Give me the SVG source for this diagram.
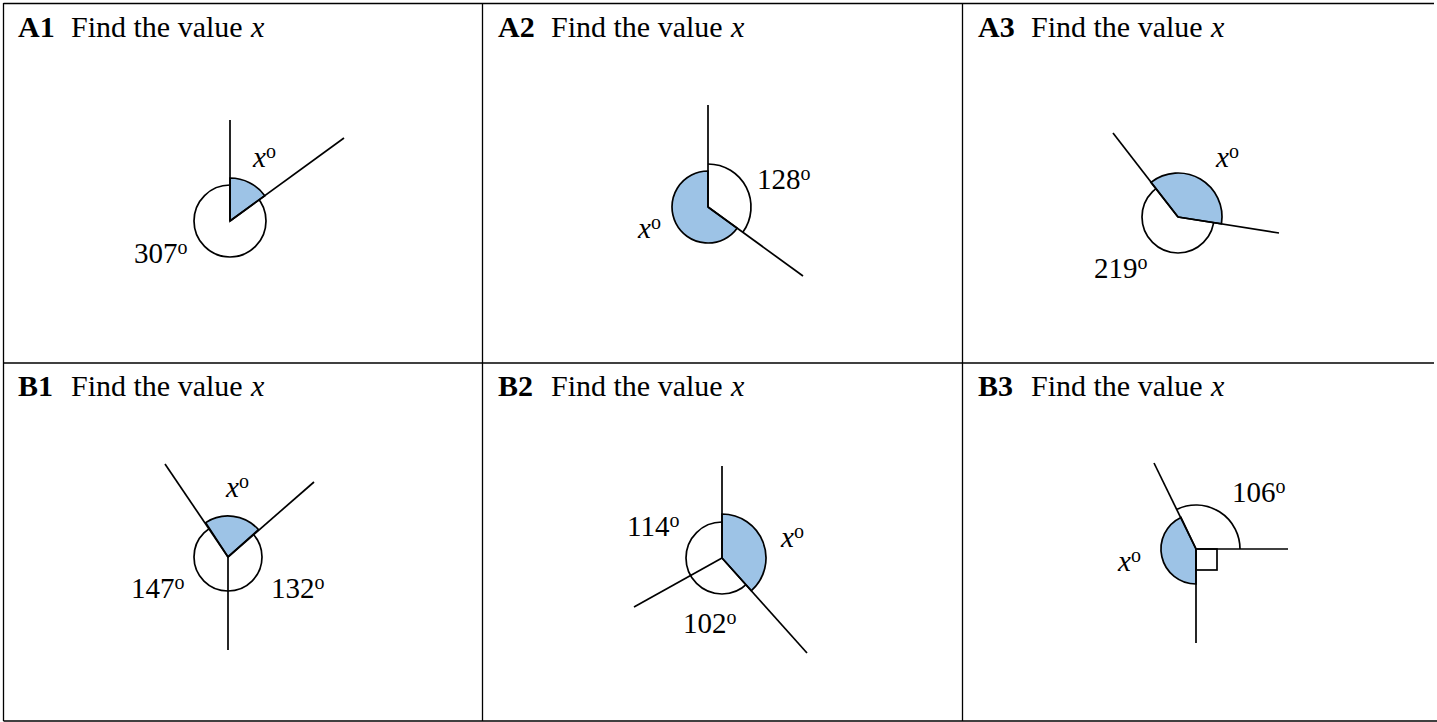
<svg xmlns="http://www.w3.org/2000/svg" width="1437" height="722" viewBox="0 0 1437 722">
<style>
text{font-family:"Liberation Serif","Times New Roman",serif;font-size:29px;fill:#000}
.t{font-size:30px}
.b{font-weight:bold}
.i{font-style:italic}
.sup{font-size:20px}
.grid{stroke:#000;stroke-width:1.3;fill:none}
.ln{stroke:#000;stroke-width:1.7;fill:none;stroke-linecap:butt}
.arc{stroke:#000;stroke-width:1.7;fill:none}
.sec{stroke:#000;stroke-width:1.7;fill:#9DC3E6;stroke-linejoin:miter}
.circ{stroke:#000;stroke-width:1.7;fill:#fff}
</style>
<rect width="1437" height="722" fill="#fff"/>
<g id="table">
<line class="grid" x1="3.5" y1="3.5" x2="1434" y2="3.5"/>
<line class="grid" x1="3.5" y1="363" x2="1434" y2="363"/>
<line class="grid" x1="3.5" y1="721" x2="1437" y2="721" stroke="#888"/>
<line class="grid" x1="3.5" y1="3" x2="3.5" y2="721"/>
<line class="grid" x1="482.5" y1="3" x2="482.5" y2="721"/>
<line class="grid" x1="962.5" y1="3" x2="962.5" y2="721"/>
</g>
<g id="A1">
<text class="t" x="18" y="37"><tspan class="b">A1</tspan><tspan x="71">Find the value</tspan><tspan x="251" class="i">x</tspan></text>
<circle class="circ" cx="230" cy="221" r="36"/>
<path class="sec" d="M230,221 L230,178 A43,43 0 0 1 264.79,195.72 Z"/>
<line class="ln" x1="230" y1="221" x2="230" y2="120"/>
<line class="ln" x1="230" y1="221" x2="344" y2="138"/>
<text x="253" y="167"><tspan class="i">x</tspan><tspan class="sup" dy="-9">o</tspan></text>
<text x="134" y="263">307<tspan class="sup" dy="-9">o</tspan></text>
</g>
<g id="A2">
<text class="t" x="498" y="37"><tspan class="b">A2</tspan><tspan x="551">Find the value</tspan><tspan x="731" class="i">x</tspan></text>
<path class="arc" d="M708,164 A43,43 0 0 1 742.79,232.28"/>
<path class="sec" d="M708,207 L737.12,228.16 A36,36 0 1 1 708,171 Z"/>
<line class="ln" x1="708" y1="207" x2="708" y2="105"/>
<line class="ln" x1="708" y1="207" x2="803" y2="276"/>
<text x="638" y="238"><tspan class="i">x</tspan><tspan class="sup" dy="-9">o</tspan></text>
<text x="757" y="189">128<tspan class="sup" dy="-9">o</tspan></text>
</g>
<g id="A3">
<text class="t" x="978" y="37"><tspan class="b">A3</tspan><tspan x="1031">Find the value</tspan><tspan x="1211" class="i">x</tspan></text>
<circle class="circ" cx="1178" cy="217" r="36"/>
<path class="sec" d="M1178,217 L1150.91,182.33 A44,44 0 0 1 1221.46,223.88 Z"/>
<line class="ln" x1="1178" y1="217" x2="1113" y2="133"/>
<line class="ln" x1="1178" y1="217" x2="1279" y2="233"/>
<text x="1216" y="167"><tspan class="i">x</tspan><tspan class="sup" dy="-9">o</tspan></text>
<text x="1094" y="278">219<tspan class="sup" dy="-9">o</tspan></text>
</g>
<g id="B1">
<text class="t" x="18" y="396"><tspan class="b">B1</tspan><tspan x="71">Find the value</tspan><tspan x="251" class="i">x</tspan></text>
<circle class="circ" cx="228" cy="557" r="34"/>
<path class="sec" d="M228,557 L205.67,522.61 A41,41 0 0 1 258.47,529.57 Z"/>
<line class="ln" x1="228" y1="557" x2="165" y2="464"/>
<line class="ln" x1="228" y1="557" x2="314" y2="482"/>
<line class="ln" x1="228" y1="557" x2="228" y2="650"/>
<text x="226" y="497"><tspan class="i">x</tspan><tspan class="sup" dy="-9">o</tspan></text>
<text x="131" y="598">147<tspan class="sup" dy="-9">o</tspan></text>
<text x="271" y="598">132<tspan class="sup" dy="-9">o</tspan></text>
</g>
<g id="B2">
<text class="t" x="498" y="396"><tspan class="b">B2</tspan><tspan x="551">Find the value</tspan><tspan x="731" class="i">x</tspan></text>
<circle class="circ" cx="722" cy="558" r="36"/>
<path class="sec" d="M722,558 L722,514 A44,44 0 0 1 751.44,590.70 Z"/>
<line class="ln" x1="722" y1="558" x2="722" y2="466"/>
<line class="ln" x1="722" y1="558" x2="634" y2="607"/>
<line class="ln" x1="722" y1="558" x2="807" y2="653"/>
<text x="781" y="547"><tspan class="i">x</tspan><tspan class="sup" dy="-9">o</tspan></text>
<text x="627" y="536">114<tspan class="sup" dy="-9">o</tspan></text>
<text x="683" y="633">102<tspan class="sup" dy="-9">o</tspan></text>
</g>
<g id="B3">
<text class="t" x="978" y="396"><tspan class="b">B3</tspan><tspan x="1031">Find the value</tspan><tspan x="1211" class="i">x</tspan></text>
<path class="arc" d="M1177.06,509.29 A44,44 0 0 1 1240,549"/>
<path class="sec" d="M1196,549 L1196,584 A35,35 0 0 1 1180.93,517.41 Z"/>
<rect class="arc" x="1196" y="549" width="21" height="21"/>
<line class="ln" x1="1196" y1="549" x2="1154" y2="463"/>
<line class="ln" x1="1196" y1="549" x2="1288" y2="549"/>
<line class="ln" x1="1196" y1="549" x2="1196" y2="643"/>
<text x="1118" y="571"><tspan class="i">x</tspan><tspan class="sup" dy="-9">o</tspan></text>
<text x="1232" y="502">106<tspan class="sup" dy="-9">o</tspan></text>
</g>
</svg>
